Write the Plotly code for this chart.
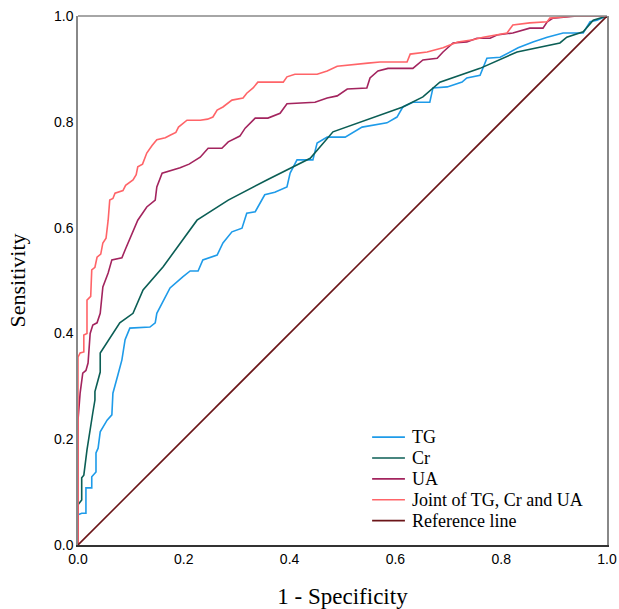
import plotly.graph_objects as go

tg_x = [0, 0, 0.007, 0.015, 0.015, 0.026, 0.026, 0.034, 0.034, 0.038, 0.042, 0.051, 0.055, 0.064, 0.066, 0.066, 0.075, 0.083, 0.089, 0.098, 0.136, 0.146, 0.149, 0.174, 0.198, 0.212, 0.227, 0.236, 0.263, 0.274, 0.291, 0.31, 0.319, 0.335, 0.353, 0.372, 0.395, 0.401, 0.414, 0.444, 0.452, 0.471, 0.505, 0.537, 0.584, 0.603, 0.614, 0.633, 0.665, 0.671, 0.698, 0.726, 0.735, 0.76, 0.773, 0.798, 0.832, 0.86, 0.887, 0.917, 0.955, 0.968, 0.981, 1]
tg_y = [0, 0.057, 0.06, 0.06, 0.108, 0.108, 0.129, 0.138, 0.174, 0.183, 0.214, 0.23, 0.236, 0.246, 0.274, 0.287, 0.32, 0.35, 0.388, 0.41, 0.412, 0.42, 0.438, 0.486, 0.507, 0.518, 0.518, 0.539, 0.548, 0.571, 0.592, 0.599, 0.627, 0.63, 0.662, 0.667, 0.677, 0.703, 0.728, 0.728, 0.76, 0.771, 0.771, 0.79, 0.798, 0.809, 0.828, 0.837, 0.837, 0.864, 0.866, 0.875, 0.883, 0.888, 0.92, 0.922, 0.94, 0.951, 0.96, 0.968, 0.968, 0.989, 0.992, 1]

cr_x = [0, 0, 0.007, 0.007, 0.011, 0.017, 0.028, 0.032, 0.032, 0.042, 0.042, 0.079, 0.104, 0.123, 0.161, 0.225, 0.284, 0.357, 0.439, 0.482, 0.614, 0.652, 0.684, 0.76, 0.83, 0.911, 0.924, 0.955, 0.974, 1]
cr_y = [0, 0.076, 0.085, 0.127, 0.132, 0.18, 0.25, 0.274, 0.29, 0.327, 0.363, 0.42, 0.438, 0.482, 0.526, 0.614, 0.652, 0.69, 0.731, 0.781, 0.828, 0.847, 0.875, 0.901, 0.932, 0.949, 0.96, 0.97, 0.992, 1]

ua_x = [0, 0, 0.004, 0.009, 0.015, 0.019, 0.023, 0.028, 0.036, 0.042, 0.047, 0.057, 0.064, 0.083, 0.09, 0.102, 0.113, 0.13, 0.146, 0.149, 0.159, 0.193, 0.21, 0.231, 0.246, 0.272, 0.284, 0.306, 0.316, 0.335, 0.359, 0.382, 0.395, 0.448, 0.471, 0.49, 0.509, 0.546, 0.552, 0.567, 0.586, 0.633, 0.652, 0.679, 0.69, 0.709, 0.735, 0.754, 0.779, 0.792, 0.822, 0.854, 0.879, 0.887, 0.898, 0.943, 1]
ua_y = [0, 0.236, 0.287, 0.325, 0.33, 0.344, 0.4, 0.416, 0.42, 0.438, 0.488, 0.514, 0.539, 0.543, 0.56, 0.59, 0.614, 0.639, 0.652, 0.677, 0.703, 0.713, 0.72, 0.733, 0.75, 0.75, 0.762, 0.773, 0.788, 0.807, 0.807, 0.816, 0.834, 0.837, 0.845, 0.849, 0.862, 0.864, 0.883, 0.896, 0.901, 0.901, 0.917, 0.92, 0.932, 0.949, 0.951, 0.958, 0.958, 0.964, 0.968, 0.977, 0.977, 0.989, 0.996, 1.0, 1]

joint_x = [0, 0, 0.004, 0.011, 0.011, 0.017, 0.017, 0.024, 0.026, 0.032, 0.036, 0.043, 0.047, 0.053, 0.057, 0.06, 0.066, 0.07, 0.085, 0.09, 0.104, 0.11, 0.113, 0.122, 0.13, 0.136, 0.14, 0.149, 0.165, 0.175, 0.185, 0.19, 0.206, 0.231, 0.245, 0.255, 0.263, 0.274, 0.291, 0.312, 0.319, 0.331, 0.34, 0.388, 0.395, 0.41, 0.452, 0.471, 0.49, 0.548, 0.571, 0.622, 0.628, 0.66, 0.69, 0.703, 0.718, 0.747, 0.766, 0.811, 0.822, 0.854, 0.887, 0.892, 0.936, 1]
joint_y = [0, 0.355, 0.363, 0.365, 0.397, 0.4, 0.463, 0.47, 0.52, 0.525, 0.544, 0.55, 0.571, 0.58, 0.614, 0.652, 0.655, 0.665, 0.67, 0.68, 0.69, 0.7, 0.715, 0.72, 0.741, 0.75, 0.755, 0.766, 0.77, 0.775, 0.78, 0.79, 0.803, 0.803, 0.805, 0.809, 0.822, 0.828, 0.841, 0.845, 0.854, 0.864, 0.875, 0.875, 0.885, 0.89, 0.89, 0.896, 0.905, 0.911, 0.913, 0.913, 0.928, 0.932, 0.94, 0.945, 0.951, 0.955, 0.96, 0.968, 0.983, 0.987, 0.989, 0.996, 1.0, 1]

ref_x = [0, 1]
ref_y = [0, 1]

tick_vals = [0.0, 0.2, 0.4, 0.6, 0.8, 1.0]
tick_text = ["0.0", "0.2", "0.4", "0.6", "0.8", "1.0"]

series = [
    ("TG", tg_x, tg_y, "#1E9BE9"),
    ("Cr", cr_x, cr_y, "#0B5E55"),
    ("UA", ua_x, ua_y, "#A3245E"),
    ("Joint of TG, Cr and UA", joint_x, joint_y, "#FF6468"),
    ("Reference line", ref_x, ref_y, "#6B1518"),
]

fig = go.Figure()
for name, xs, ys, col in series:
    fig.add_trace(go.Scatter(x=xs, y=ys, mode="lines", name=name, showlegend=False,
                             line=dict(color=col, width=1.6)))

# manual legend (tighter line spacing than plotly's built-in legend)
shapes = [dict(type="line", xref="paper", yref="paper", x0=0, x1=1, y0=1, y1=1,
               line=dict(color="#888", width=1.5))]
annotations = []
leg_top = 0.204
leg_step = 0.0395
for i, (name, xs, ys, col) in enumerate(series):
    yy = leg_top - i * leg_step
    shapes.append(dict(type="line", xref="paper", yref="paper", x0=0.556, x1=0.618,
                       y0=yy, y1=yy, line=dict(color=col, width=1.6)))
    annotations.append(dict(xref="paper", yref="paper", x=0.627, y=yy, text=name,
                            showarrow=False, xanchor="left", yanchor="middle",
                            font=dict(family="Liberation Serif", size=18, color="#000")))

fig.update_layout(
    width=619, height=609,
    margin=dict(l=78, r=12, t=16, b=64),
    plot_bgcolor="white", paper_bgcolor="white",
    showlegend=False,
    shapes=shapes,
    annotations=annotations,
)
fig.update_xaxes(range=[0, 1], tickvals=tick_vals, ticktext=tick_text, automargin=False,
                 ticklabeloverflow="allow",
                 showgrid=False, zeroline=False, showline=True, linecolor="#333", linewidth=1.5,
                 ticks="", tickfont=dict(family="Liberation Sans", size=14, color="#000"),
                 title=dict(text="1 - Specificity", font=dict(family="Liberation Serif", size=23, color="#000"), standoff=29))
fig.update_yaxes(range=[0, 1], tickvals=tick_vals, ticktext=tick_text, automargin=False,
                 ticklabeloverflow="allow",
                 showgrid=False, zeroline=False, showline=True, linecolor="#888", linewidth=1.5, mirror=True,
                 ticks="", tickfont=dict(family="Liberation Sans", size=14, color="#000"),
                 title=dict(text="Sensitivity", font=dict(family="Liberation Serif", size=22, color="#000"), standoff=22))

# remove the page's default body margin / scrollbars so the figure fills the window exactly
fig.write_html("out.html", config={"displayModeBar": False},
               post_script="document.body.style.margin='0';document.documentElement.style.overflow='hidden';document.body.style.overflow='hidden';")
